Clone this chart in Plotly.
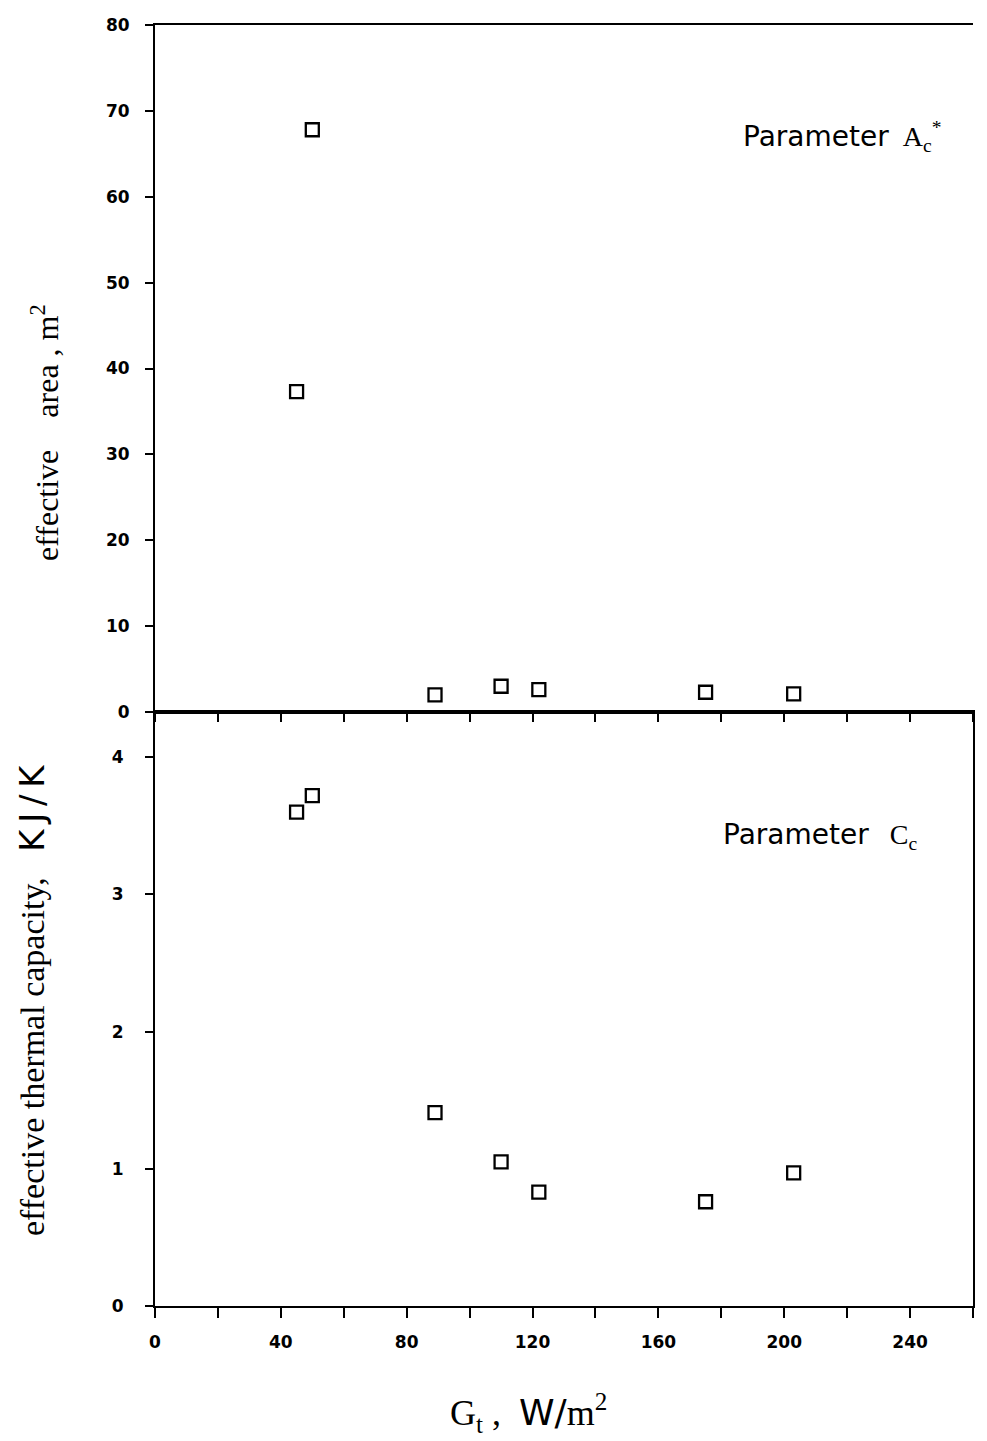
import plotly.graph_objects as go

# Irradiance G_t (W/m2) of each test run
g_t = [45, 50, 89, 110, 122, 175, 203]
# Parameter A_c* : effective area (m2)
eff_area = [37.3, 67.8, 2.0, 3.0, 2.6, 2.3, 2.1]
# Parameter C_c : effective thermal capacity (kJ/K)
eff_capacity = [3.60, 3.72, 1.41, 1.05, 0.83, 0.76, 0.97]

x_labels = list(range(0, 241, 40))
x_minor = list(range(20, 261, 40))
x_all = list(range(0, 261, 20))
area_ticks = list(range(0, 81, 10))
cap_ticks = [0, 1, 2, 3, 4]

serif = "Liberation Serif, Times New Roman, serif"
sans = "DejaVu Sans, Liberation Sans, sans-serif"

W, H = 987, 1441
ML, MR, MT, MB = 155, 14, 25, 135

marker = dict(symbol="square-open", size=13, color="black", line=dict(width=2.3, color="black"))

fig = go.Figure()
fig.add_trace(go.Scatter(x=g_t, y=eff_area, mode="markers", marker=marker,
                         xaxis="x2", yaxis="y2", showlegend=False))
fig.add_trace(go.Scatter(x=g_t, y=eff_capacity, mode="markers", marker=marker,
                         xaxis="x", yaxis="y", showlegend=False))

split = 0.4637
tickfont = dict(family=sans, size=17, color="black", weight="bold")

fig.update_layout(
    width=W, height=H,
    margin=dict(l=ML, r=MR, t=MT, b=MB),
    paper_bgcolor="white", plot_bgcolor="white",
    xaxis=dict(domain=[0, 1], range=[0, 260], anchor="y",
               tickmode="array", tickvals=x_labels,
               ticks="outside", ticklen=10, tickwidth=2, tickcolor="black",
               minor=dict(tickmode="array", tickvals=x_minor, ticks="outside",
                          ticklen=10, tickwidth=2, tickcolor="black", showgrid=False),
               showline=True, linewidth=2, linecolor="black", mirror=True,
               showgrid=False, zeroline=False, tickfont=tickfont,
               ticklabelstandoff=10),
    yaxis=dict(domain=[0, split], range=[0, 4.33], anchor="x",
               tickmode="array", tickvals=cap_ticks,
               ticks="outside", ticklen=8, tickwidth=2, tickcolor="black",
               showline=True, linewidth=2, linecolor="black", mirror=True,
               showgrid=False, zeroline=False, tickfont=tickfont,
               ticklabelstandoff=18),
    xaxis2=dict(domain=[0, 1], range=[0, 260], anchor="y2",
                tickmode="array", tickvals=x_all, showticklabels=False,
                ticks="outside", ticklen=8, tickwidth=2, tickcolor="black",
                showline=True, linewidth=2, linecolor="black", mirror=True,
                showgrid=False, zeroline=False),
    yaxis2=dict(domain=[split, 1], range=[0, 80], anchor="x2",
                tickmode="array", tickvals=area_ticks,
                ticks="outside", ticklen=8, tickwidth=2, tickcolor="black",
                showline=True, linewidth=2, linecolor="black",
                showgrid=False, zeroline=False, tickfont=tickfont,
                ticklabelstandoff=12),
)


def paper_xy(px, py):
    return (px - ML) / (W - ML - MR), (H - MB - py) / (H - MT - MB)


ann = [
    # y-axis titles
    dict(px=45, py=432, angle=-90,
         text="effective&nbsp;&nbsp;&nbsp;&nbsp;area , m<sup>2</sup>",
         font=dict(family=serif, size=32, color="black")),
    dict(px=32, py=1000, angle=-90,
         text="effective thermal capacity,&nbsp;&nbsp;&nbsp;<span style='font-family:DejaVu Sans'>K\u2009J\u2009/\u2009K</span>",
         font=dict(family=serif, size=34, color="black")),
    # x-axis title
    dict(px=528, py=1413, angle=0,
         text="G<sub>t</sub> ,&nbsp;&nbsp;<span style='font-family:DejaVu Sans'>W/</span>m<sup>2</sup>",
         font=dict(family=serif, size=36, color="black")),
    # panel labels
    dict(px=842, py=136, angle=0,
         text="<span style='font-family:DejaVu Sans'>Parameter</span>&nbsp;&nbsp;A<sub>c</sub><sup>*</sup>",
         font=dict(family=serif, size=28, color="black")),
    dict(px=820, py=836, angle=0,
         text="<span style='font-family:DejaVu Sans'>Parameter</span>&nbsp;&nbsp;&nbsp;C<sub>c</sub>",
         font=dict(family=serif, size=28, color="black")),
]
annotations = []
for a in ann:
    x, y = paper_xy(a["px"], a["py"])
    annotations.append(dict(x=x, y=y, xref="paper", yref="paper",
                            xanchor="center", yanchor="middle",
                            text=a["text"], font=a["font"],
                            textangle=a["angle"], showarrow=False))

fig.update_layout(annotations=annotations)

fig.write_html("out.html")
